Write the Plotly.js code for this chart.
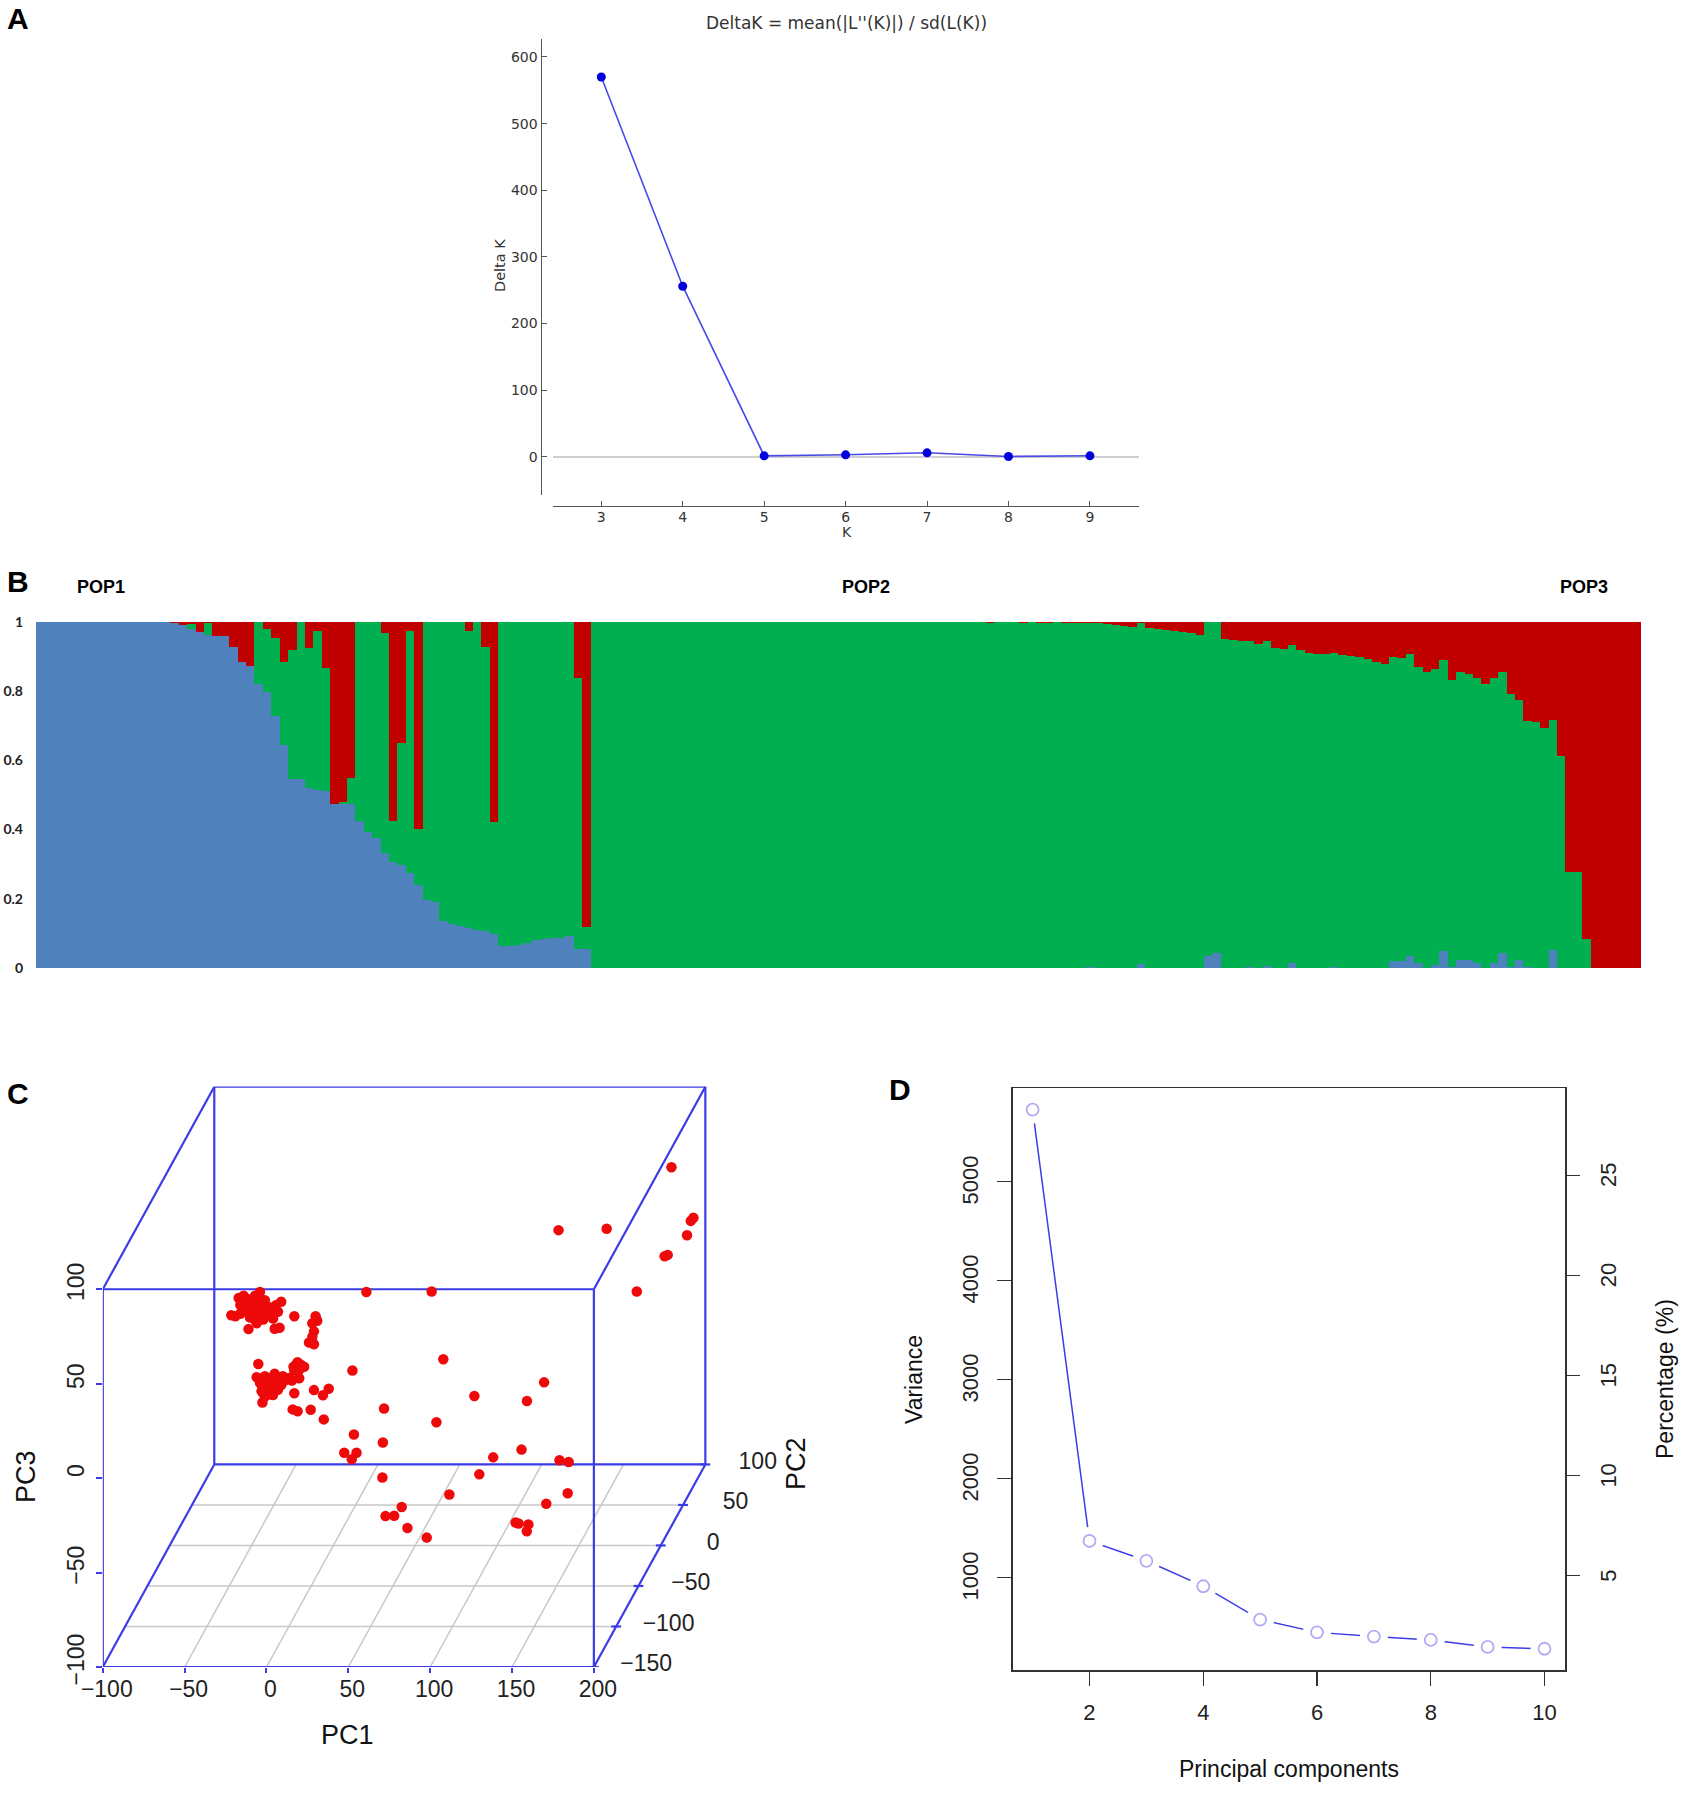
<!DOCTYPE html>
<html>
<head>
<meta charset="utf-8">
<script src="https://cdn.plot.ly/plotly-3.0.1.min.js"></script>
<style>
body{margin:0;background:#fff}
#chart .bars path{shape-rendering:crispEdges}
</style>
</head>
<body>
<div id="chart" style="width:1699px;height:1798px"></div>
<script>
// Panel A : delta K
var kValues = [3, 4, 5, 6, 7, 8, 9];
var deltaK = [570, 256, 1.5, 3, 6, 0.5, 1.5];

// Panel B : one value per individual, 191 bars
var blueShare = [
	1,1,1,1,1,1,1,1,1,1,
	1,1,1,1,1,1,.997,.99,.978,.969,
	.963,.959,.959,.928,.884,.872,.819,.798,.727,.644,
	.547,.547,.521,.515,.511,.473,.475,.475,.424,.393,
	.374,.333,.306,.297,.273,.239,.196,.191,.135,.128,
	.121,.116,.111,.106,.099,.064,.064,.067,.073,.08,
	.083,.086,.088,.092,.056,.056,0,0,0,0,
	0,0,0,0,0,0,0,0,0,0,
	0,0,0,0,0,0,0,0,0,0,
	0,0,0,0,0,0,0,0,0,0,
	0,0,0,0,0,0,0,0,0,0,
	0,0,0,0,0,0,0,0,0,0,
	0,0,0,0,0,.002,0,0,0,0,
	0,.013,0,0,0,0,0,0,0,.034,
	.043,0,0,0,.002,0,.005,0,0,.014,
	0,0,0,0,.003,0,0,0,0,0,
	0,.019,.019,.034,.014,0,.01,.048,.004,.024,
	.024,.014,0,.014,.043,.004,.024,.002,0,0,
	.053,0,0,0,0,0,0,0,0,0,
	0
];
var redShare = [
	0,0,0,0,0,0,0,0,0,0,
	0,0,0,0,0,0,.003,.01,.008,.031,
	.005,.041,.041,.072,.116,.128,0,.022,.048,.116,
	.082,0,.077,.027,.135,.527,.522,.451,0,0,
	0,.034,.575,.349,.026,.599,0,0,0,0,
	0,.026,0,.072,.578,0,0,0,0,0,
	0,0,0,.002,.162,.881,0,0,0,0,
	0,0,0,0,0,0,0,0,0,0,
	0,0,0,0,0,0,0,0,0,0,
	0,0,0,0,0,0,0,0,0,0,
	0,0,0,0,0,0,0,0,0,0,
	0,0,0,.003,0,0,0,.003,0,.003,
	.003,0,.003,.003,.004,.004,.005,.008,.01,.012,
	.014,.004,.018,.022,.025,.028,.031,.033,.037,0,
	0,.051,.053,.056,.055,.063,.055,.077,.08,.066,
	.082,.09,.092,.093,.09,.096,.1,.103,.109,.116,
	.121,.101,.104,.094,.131,.145,.138,.111,.169,.145,
	.151,.162,.18,.162,.145,.208,.226,.287,.291,.306,
	.285,.388,.723,.723,.916,1,1,1,1,1,
	1
];
var popLabels = ["POP1", "POP2", "POP3"];
var shareTicks = [0, 0.2, 0.4, 0.6, 0.8, 1];
var shareTickText = ["0", "0.2", "0.4", "0.6", "0.8", "1"];

// Panel C : where each point sits on the front plane of the box
var pc1Points = [
	247.4,178.4,207.8,260.8,259.2,256.9,245.1,243.2,226.2,61,100.9,108,52.5,169.6,127,159.1,71.8,103.8,53.4,71.1,
	47.5,55,52.1,138.5,155.8,179,184.6,70.8,130,111.7,184,170.9,82.6,72.7,78,86.1,97.9,152.2,154,160,159,
	-21.5,-19,-17,-16,-14,-12,-11,-9,-7,-6,-4,-2.5,-1,1,2,4,6,9,7,-6,-11,5,8,17,
	-15,-13,-9,-8,-5,-3,-4,-1,-12,-7,-2,3,-16,-10,
	30,31,28,29,28,26,29,
	-5,16.5,19,23,20,-6,-2.5,1,5,7,11,15.5,20,-2.5,1,4,7,-1,2,-2.5,6,9,-4,
	3,-1,-2,4,2,-3,0,5,10,-1,8,14,18,21,17,
	17,29,34.5,38,16,19,27,35
];
var pc3Points = [
	164.6,131.3,132,137.9,136.2,128.6,118.2,117.5,98.8,98.5,98.8,62.9,57,50.7,43.5,40.8,36.9,29.6,23.1,18.9,
	13.4,13.4,10,11,15.1,9.5,8.5,.3,2,-8.7,-8,-13.6,-15.3,-20.1,-19.9,-26.4,-31.5,-23.5,-24,-24.5,-28.1,
	86.2,85.7,95.4,91.7,96.6,89.3,94.2,86.9,96.6,91.7,98.5,89.3,94.2,86.9,90.5,84.5,91.7,93.4,88.1,82,78.9,79.1,79.6,85.7,
	88,92,92,89,95,92,86,88,95,84,84,87,87,85,
	85.7,83.3,82,77.7,74.8,71.8,70.9,
	60.4,59,61.4,59,57.3,53.4,52.9,51.7,55.3,52.9,51.7,51.7,52.9,48.1,45.6,48.1,46.8,43.2,44.4,40,49.3,49.3,50.5,
	53,50,45,44,50,46,48,50,54,54,50,53,60,60,57,
	44.9,46.6,43.9,47.3,36.4,35.4,36.2,31.1
];
var pc1Ticks = [-100, -50, 0, 50, 100, 150, 200];
var pc1TickText = ["\u2212100", "\u221250", "0", "50", "100", "150", "200"];
var pc3Ticks = [-100, -50, 0, 50, 100];
var pc3TickText = ["\u2212100", "\u221250", "0", "50", "100"];
var pc2Ticks = [-150, -100, -50, 0, 50, 100];
var pc2TickText = ["\u2212150", "\u2212100", "\u221250", "0", "50", "100"];

// Panel D : scree plot
var components = [1, 2, 3, 4, 5, 6, 7, 8, 9, 10];
var variance = [5723, 1366, 1166, 910, 572, 443, 401, 367, 296, 277];
var percentage = [28.27, 6.74, 5.75, 4.48, 2.81, 2.18, 1.97, 1.8, 1.45, 1.36];

var W = 1699, H = 1798;
var sansFont = "Liberation Sans, Arial, sans-serif";
var boxBlue = "#3c3ce6";

function domX(a, b) { return [a / W, b / W]; }
function domY(top, bottom) { return [1 - bottom / H, 1 - top / H]; }

// text placed at a pixel of the page
function note(text, px, py, size, angle, bold, family, color)
{
	return {
		text: bold ? "<b>" + text + "</b>" : text,
		xref: "paper", yref: "paper",
		x: px / W, y: 1 - py / H,
		xanchor: "center", yanchor: "middle",
		textangle: angle || 0,
		showarrow: false,
		font: {size: size, family: family || sansFont, color: color || "#111"}
	};
}

// oblique view of panel C, one unit of PC2 moves the point right and up
var shiftPc1 = 0.2724, shiftPc3 = 0.429;
function project(pc1, pc2, pc3)
{
	var depth = pc2 + 150;
	return [pc1 + depth * shiftPc1, pc3 + depth * shiftPc3];
}

// line trace made of separate segments
function segments(list, color, width)
{
	var xs = [], ys = [];
	for (var i = 0; i < list.length; i++)
	{
		xs.push(list[i][0][0], list[i][1][0], null);
		ys.push(list[i][0][1], list[i][1][1], null);
	}
	return {
		x: xs, y: ys, xaxis: "x3", yaxis: "y3", type: "scatter", mode: "lines",
		line: {color: color, width: width}, hoverinfo: "skip"
	};
}

var boxEdges = [];
var boxCorners = [[-100, -100], [200, -100], [200, 100], [-100, 100]];
for (var c = 0; c < 4; c++)
{
	var p = boxCorners[c], q = boxCorners[(c + 1) % 4];
	boxEdges.push([project(p[0], -150, p[1]), project(q[0], -150, q[1])]);
	boxEdges.push([project(p[0], 100, p[1]), project(q[0], 100, q[1])]);
	boxEdges.push([project(p[0], -150, p[1]), project(p[0], 100, p[1])]);
}

var floorGrid = [];
for (var i = 1; i < pc1Ticks.length - 1; i++)
{
	floorGrid.push([project(pc1Ticks[i], -150, -100), project(pc1Ticks[i], 100, -100)]);
}
for (var i = 1; i < pc2Ticks.length - 1; i++)
{
	floorGrid.push([project(-100, pc2Ticks[i], -100), project(200, pc2Ticks[i], -100)]);
}

var pc2Marks = [], pc2LabelX = [], pc2LabelY = [];
for (var i = 0; i < pc2Ticks.length; i++)
{
	var a = project(197, pc2Ticks[i], -100), b = project(203, pc2Ticks[i], -100);
	pc2Marks.push([a, b]);
	var l = project(200, pc2Ticks[i], -100);
	pc2LabelX.push(l[0] + 32);
	pc2LabelY.push(l[1] + 0.8);
}

var greenShare = [];
var barX = [];
for (var i = 0; i < blueShare.length; i++)
{
	greenShare.push(Math.max(0, 1 - blueShare[i] - redShare[i]));
	barX.push(i + 0.5);
}

function barTrace(values, color)
{
	return {
		x: barX, y: values, xaxis: "x2", yaxis: "y2", type: "bar", width: 1,
		marker: {color: color, line: {width: 0}}, hoverinfo: "skip"
	};
}

var traces = [
	{
		x: kValues, y: deltaK, type: "scatter", mode: "lines+markers",
		line: {color: "#4a4ae6", width: 1.6},
		marker: {color: "#0000dc", size: 9}
	},
	barTrace(blueShare, "#4f81bd"),
	barTrace(greenShare, "#00b050"),
	barTrace(redShare, "#c00000"),
	segments(floorGrid, "#c8c8c8", 1.5),
	segments(boxEdges, boxBlue, 2.2),
	segments(pc2Marks, boxBlue, 2.2),
	{
		x: pc2LabelX, y: pc2LabelY, text: pc2TickText, xaxis: "x3", yaxis: "y3",
		type: "scatter", mode: "text", textposition: "middle center",
		textfont: {size: 23, family: sansFont, color: "#222"}, cliponaxis: false
	},
	{
		x: pc1Points, y: pc3Points, xaxis: "x3", yaxis: "y3", type: "scatter", mode: "markers",
		marker: {color: "#ee0a0a", size: 10.5}, cliponaxis: false
	},
	{
		x: components, y: variance, xaxis: "x4", yaxis: "y4", type: "scatter", mode: "lines",
		line: {color: "#3c3ce6", width: 1.5}
	},
	// white discs open the gaps of the R type="b" line
	{
		x: components, y: variance, xaxis: "x4", yaxis: "y4", type: "scatter", mode: "markers",
		marker: {color: "#ffffff", size: 28}, cliponaxis: false
	},
	{
		x: components, y: percentage, xaxis: "x4", yaxis: "y5", type: "scatter", mode: "markers",
		marker: {symbol: "circle-open", color: "#b2acf4", size: 12, line: {width: 1.8, color: "#b2acf4"}}
	}
];

var tickA = {size: 14, family: "DejaVu Sans, sans-serif", color: "#333"};
var tickD = {size: 22, family: sansFont, color: "#222"};
var tickC = {size: 23, family: sansFont, color: "#222"};

var layout = {
	width: W, height: H,
	margin: {l: 0, r: 0, t: 0, b: 0},
	paper_bgcolor: "#fff", plot_bgcolor: "rgba(0,0,0,0)",
	showlegend: false, barmode: "stack", bargap: 0,
	title: {
		text: "DeltaK = mean(|L''(K)|) / sd(L(K))",
		x: 846.5 / W, y: 1 - 23 / H, xanchor: "center", yanchor: "middle",
		font: {size: 17, family: "DejaVu Sans, sans-serif", color: "#333"}
	},

	xaxis: {
		domain: domX(553, 1138.8), range: [2.407, 9.6], anchor: "free", position: 1 - 506 / H,
		tickvals: kValues, ticks: "inside", ticklen: 5, tickcolor: "#555", ticklabelstandoff: -2,
		showgrid: false, zeroline: false, showline: true, linecolor: "#555", linewidth: 1.3, tickfont: tickA
	},
	yaxis: {
		domain: domY(39, 494.6), range: [-56.7, 627], anchor: "free", position: 540.5 / W,
		tickvals: [0, 100, 200, 300, 400, 500, 600], ticks: "inside", ticklen: 5, tickcolor: "#555",
		showgrid: false, zeroline: true, zerolinecolor: "#cfcfcf", zerolinewidth: 2,
		showline: true, linecolor: "#555", linewidth: 1.3, tickfont: tickA
	},

	xaxis2: {
		domain: domX(36, 1641), range: [0, 191], anchor: "y2",
		showticklabels: false, ticks: "", showgrid: false, zeroline: false
	},
	yaxis2: {
		domain: domY(621.7, 968), range: [0, 1], anchor: "x2",
		tickvals: shareTicks, ticktext: shareTickText, ticks: "", ticklabelstandoff: 12,
		showgrid: false, zeroline: false,
		tickfont: {size: 14, family: "Lato, sans-serif", color: "#222", weight: "bold"}
	},

	xaxis3: {
		domain: domX(102.8, 780), range: [-100, 313.7], anchor: "y3",
		tickvals: pc1Ticks, ticktext: pc1TickText, ticks: "outside", ticklen: 5, tickcolor: boxBlue, tickwidth: 2,
		ticklabelstandoff: -4, ticklabelshift: 4,
		showgrid: false, zeroline: false, tickfont: tickC
	},
	yaxis3: {
		domain: domY(1086.4, 1667), range: [-100, 207.4], anchor: "x3",
		tickvals: pc3Ticks, ticktext: pc3TickText, ticks: "outside", ticklen: 6, tickcolor: boxBlue, tickwidth: 2,
		tickangle: -90, ticklabelstandoff: 3, ticklabelshift: -4,
		showgrid: false, zeroline: false, tickfont: tickC
	},

	xaxis4: {
		domain: domX(1012.7, 1565), range: [0.65, 10.36], anchor: "y4",
		tickvals: [2, 4, 6, 8, 10], ticks: "outside", ticklen: 14, tickcolor: "#333", tickwidth: 1.3,
		ticklabelstandoff: 8,
		showgrid: false, zeroline: false, showline: true, mirror: true, linecolor: "#333", linewidth: 1.5, tickfont: tickD
	},
	yaxis4: {
		domain: domY(1088, 1670), range: [63, 5942], anchor: "x4",
		tickvals: [1000, 2000, 3000, 4000, 5000], ticks: "outside", ticklen: 14, tickcolor: "#333", tickwidth: 1.3,
		tickangle: -90, ticklabelstandoff: 10, ticklabelshift: 2,
		showgrid: false, zeroline: false, showline: true, mirror: true, linecolor: "#333", linewidth: 1.5, tickfont: tickD
	},
	yaxis5: {
		overlaying: "y4", side: "right", range: [0.3, 29.35], anchor: "x4",
		tickvals: [5, 10, 15, 20, 25], ticks: "outside", ticklen: 14, tickcolor: "#333", tickwidth: 1.3,
		tickangle: -90, ticklabelstandoff: 10, ticklabelshift: 3,
		showgrid: false, zeroline: false, tickfont: tickD
	},

	annotations: [
		note("A", 18, 19, 30, 0, true, sansFont, "#000"),
		note("B", 18, 581, 30, 0, true, sansFont, "#000"),
		note("C", 18, 1093, 30, 0, true, sansFont, "#000"),
		note("D", 900, 1089, 30, 0, true, sansFont, "#000"),
		note("K", 846.5, 532, 14, 0, false, "DejaVu Sans, sans-serif", "#333"),
		note("Delta K", 500, 266, 14.5, -90, false, "DejaVu Sans, sans-serif", "#333"),
		note(popLabels[0], 101, 587, 18, 0, true, sansFont, "#000"),
		note(popLabels[1], 866, 587, 18, 0, true, sansFont, "#000"),
		note(popLabels[2], 1584, 587, 18, 0, true, sansFont, "#000"),
		note("PC1", 347.5, 1735, 27, 0),
		note("PC3", 26, 1477, 27, -90),
		note("PC2", 796, 1464, 27, -90),
		note("Variance", 914, 1379, 23, -90),
		note("Percentage (%)", 1665, 1379, 23, -90),
		note("Principal components", 1289, 1769, 23, 0)
	]
};

Plotly.newPlot("chart", traces, layout, {displayModeBar: false, staticPlot: true});
</script>
</body>
</html>
